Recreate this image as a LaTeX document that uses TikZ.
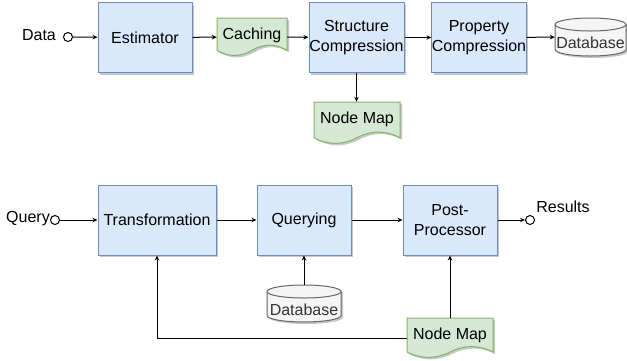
\documentclass[tikz,border=0pt]{standalone}
\usepackage{fontspec}
\setmainfont{Liberation Sans}
\usetikzlibrary{arrows.meta,shadows,calc}
\definecolor{bfill}{HTML}{DAE8FC}
\definecolor{bdraw}{HTML}{6C8EBF}
\definecolor{gfill}{HTML}{D5E8D4}
\definecolor{gdraw}{HTML}{82B366}
\definecolor{dfill}{HTML}{F5F5F5}
\definecolor{ddraw}{HTML}{666666}
\definecolor{dtext}{HTML}{333333}
\tikzset{
 shad/.style={drop shadow={shadow xshift=2pt, shadow yshift=-2pt, opacity=0.22, fill=black}},
 proc/.style={rectangle, draw=bdraw, fill=bfill, line width=1pt, minimum height=70pt, align=center, inner sep=0pt, shad},
 docst/.style={draw=gdraw, fill=gfill, line width=1pt, shad},
 cylst/.style={draw=ddraw, fill=dfill, line width=1pt, shad},
 hid/.style={rectangle, inner sep=0pt, draw=none},
 lbl/.style={inner sep=0pt},
 term/.style={circle, draw=black, fill=white, line width=1pt, minimum size=9pt, inner sep=0pt},
 conn/.style={draw=black, line width=1pt, -{Stealth[length=5pt,width=4.5pt]}},
}
\newcommand{\docshape}[5]{%
 \path[docst] (#2,#3) -- ({#2+#4},#3) -- ({#2+#4},{#3+0.85*#5})
   .. controls ({#2+0.8333*#4},{#3+0.67*#5}) and ({#2+0.6667*#4},{#3+0.67*#5}) .. ({#2+0.5*#4},{#3+0.85*#5})
   .. controls ({#2+0.3333*#4},{#3+1.03*#5}) and ({#2+0.1667*#4},{#3+1.03*#5}) .. (#2,{#3+0.85*#5}) -- cycle;
 \node[hid, minimum width=#4pt, minimum height=#5pt] (#1) at ({#2+#4/2},{#3+#5/2}) {};
}
\newcommand{\cylshape}[5]{%
 \path[cylst] (#2,{#3+6.5}) -- (#2,{#3+#5-6.5})
   arc[start angle=180, end angle=360, x radius={#4/2*1pt}, y radius=6.5pt]
   -- ({#2+#4},{#3+6.5})
   arc[start angle=0, end angle=180, x radius={#4/2*1pt}, y radius=6.5pt] -- cycle;
 \draw[draw=ddraw, line width=1pt] (#2,{#3+6.5}) arc[start angle=180, end angle=360, x radius={#4/2*1pt}, y radius=6.5pt];
 \node[hid, minimum width=#4pt, minimum height=#5pt] (#1) at ({#2+#4/2},{#3+#5/2}) {};
}
\begin{document}
\begin{tikzpicture}[x=1pt,y=-1pt,font=\fontsize{16}{20}\selectfont]
\useasboundingbox (0,0) rectangle (627,360);
% top row
\node[lbl] (datat) at (39,35) {Data};
\node[term] (datac) at (68,37) {};
\node[proc, minimum width=94pt] (est) at (145,37.5) {Estimator};
\docshape{cach}{217}{18}{70}{38}
\node[lbl] (cacht) at ($(cach.center)+(0,-2)$) {Caching};
\node[proc, minimum width=95pt] (sc) at (356.5,37.5) {Structure\\Compression};
\node[proc, minimum width=94pt] (pc) at (479,37.5) {Property\\Compression};
\cylshape{db1}{555}{18}{71}{38}
\node[lbl, text=dtext] (db1t) at ($(db1.center)+(0,6)$) {Database};
\docshape{nm1}{314}{102}{86}{42}
\node[lbl] (nm1t) at ($(nm1.center)+(0,-3.5)$) {Node Map};
\draw[conn] (datac) -- (est);
\draw[conn] (est) -- (cach);
\draw[conn] (cach) -- (sc);
\draw[conn] (sc) -- (pc);
\draw[conn] (pc) -- (db1);
\draw[conn] (sc.south) -- (sc.south |- nm1.north);
% bottom row
\node[lbl] (qt) at (28,218.5) {Query};
\node[term] (qc) at (55,220) {};
\node[proc, minimum width=118pt] (tr) at (157,220) {Transformation};
\node[proc, minimum width=94pt] (qu) at (304,220) {Querying};
\node[proc, minimum width=94pt] (pp) at (450,220) {Post-\\Processor};
\node[term] (rc) at (530,220) {};
\node[lbl] (rt) at (563,207) {Results};
\cylshape{db2}{267}{285}{74}{37}
\node[lbl, text=dtext] (db2t) at ($(db2.center)+(0,6.5)$) {Database};
\docshape{nm2}{407}{318}{86}{40}
\node[lbl] (nm2t) at ($(nm2.center)+(0,-2.5)$) {Node Map};
\draw[conn] (qc) -- (tr);
\draw[conn] (tr) -- (qu);
\draw[conn] (qu) -- (pp);
\draw[conn] (pp) -- (rc);
\draw[conn] (db2) -- (qu);
\draw[conn] (nm2) -- (pp);
\draw[conn] (nm2.west) -| (tr.south);
\end{tikzpicture}
\end{document}
